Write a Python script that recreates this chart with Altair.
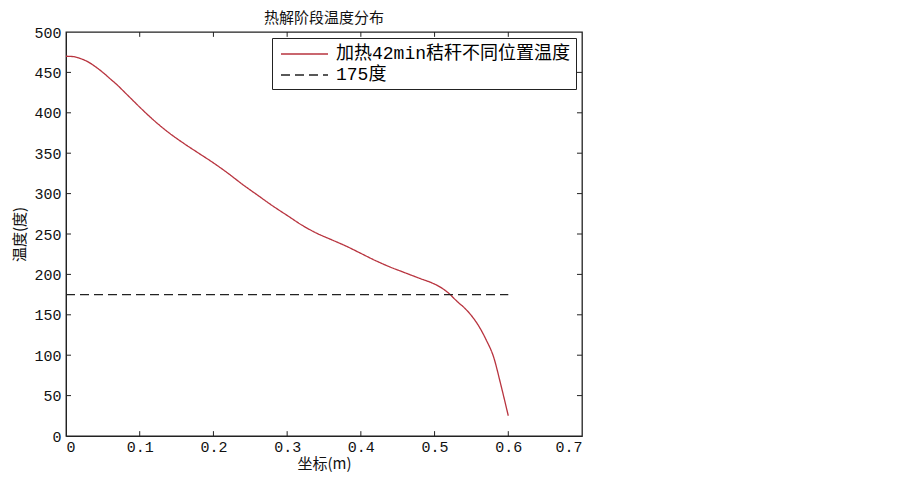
import altair as alt
import pandas as pd

# data
pos = [0, 0.01, 0.02, 0.03, 0.04, 0.05, 0.06, 0.07, 0.08, 0.09, 0.1, 0.12, 0.14, 0.16, 0.18,
       0.2, 0.22, 0.24, 0.26, 0.28, 0.3, 0.32, 0.34, 0.36, 0.38, 0.4, 0.42, 0.44, 0.46, 0.48,
       0.5, 0.51, 0.52, 0.53, 0.54, 0.55, 0.56, 0.57, 0.58, 0.59, 0.6]
temp = [470, 469.5, 467, 463, 457, 450, 442, 434, 425, 416, 407, 390, 375, 362, 350,
        338, 325, 311, 298, 285, 273, 261, 251, 243, 235, 226, 217, 209, 202, 195,
        188, 183, 176, 167, 159, 149, 136, 119, 98, 63, 25]
ref_x = [0, 0.6]
ref_y = [175, 175]
series = ["加热42min秸秆不同位置温度", "175度"]
x_ticks = [0, 0.1, 0.2, 0.3, 0.4, 0.5, 0.6, 0.7]
y_ticks = [0, 50, 100, 150, 200, 250, 300, 350, 400, 450, 500]

df_curve = pd.DataFrame({"x": pos, "y": temp, "s": series[0]})
df_ref = pd.DataFrame({"x": ref_x, "y": ref_y, "s": series[1]})
df = pd.concat([df_curve, df_ref], ignore_index=True)

FONT = "Liberation Mono, Noto Sans CJK SC"
CJK = "Noto Sans CJK SC"

xs = alt.Scale(domain=[0, 0.7], nice=False, zero=False)
ys = alt.Scale(domain=[0, 500], nice=False)

lines = alt.Chart(df).mark_line(strokeWidth=1.3, interpolate="monotone").encode(
    x=alt.X("x:Q", scale=xs, axis=alt.Axis(values=x_ticks, format=".1~f", title="坐标(m)",
                                         tickSize=0, labelPadding=3, titlePadding=2)),
    y=alt.Y("y:Q", scale=ys, axis=alt.Axis(values=y_ticks, title="温度(度)",
                                         tickSize=0, labelPadding=5, titlePadding=6)),
    color=alt.Color("s:N", scale=alt.Scale(domain=series, range=["#b8343f", "#222222"]),
                    legend=alt.Legend(title=None, orient="top-right", offset=6,
                                      fillColor="white", strokeColor="#222222",
                                      padding=5, symbolType="M-2.35,0H2.35", symbolSize=400,
                                      symbolOffset=16.5, labelOffset=20.5,
                                      labelFontSize=18, labelFont=FONT, rowPadding=1,
                                      labelLimit=0, symbolStrokeWidth=1.5)),
    strokeDash=alt.StrokeDash("s:N", scale=alt.Scale(domain=series, range=[[1, 0], [9, 5]]),
                              legend=alt.Legend(title=None, orient="top-right")),
    detail="s:N",
)

tdf_x = pd.DataFrame({"t": x_ticks[1:-1]})
tdf_y = pd.DataFrame({"t": y_ticks[1:-1]})
bot = alt.Chart(tdf_x).mark_rule(color="#222222").encode(
    x=alt.X("t:Q", scale=xs), y=alt.datum(0, scale=ys), y2=alt.datum(6))
top = alt.Chart(tdf_x).mark_rule(color="#222222").encode(
    x=alt.X("t:Q", scale=xs), y=alt.datum(494, scale=ys), y2=alt.datum(500))
left = alt.Chart(tdf_y).mark_rule(color="#222222").encode(
    y=alt.Y("t:Q", scale=ys), x=alt.datum(0, scale=xs), x2=alt.datum(0.0068))
right = alt.Chart(tdf_y).mark_rule(color="#222222").encode(
    y=alt.Y("t:Q", scale=ys), x=alt.datum(0.6932, scale=xs), x2=alt.datum(0.7))

chart = alt.layer(bot, top, left, right, lines).properties(
    width=516, height=404,
    title=alt.Title("热解阶段温度分布", font=CJK, fontSize=15, fontWeight="normal",
                    color="#111111", offset=-1),
    padding={"left": 4, "top": 3, "right": 5, "bottom": 5},
).configure_view(stroke="#222222", strokeWidth=1.3).configure_axis(
    labelFont=FONT, labelFontSize=15, labelColor="#111111",
    titleFont=CJK, titleFontSize=15, titleFontWeight="normal", titleColor="#111111",
    domainColor="#222222", grid=False,
).configure_axisY(labelFont=FONT)

chart.save("out.html", embed_options={"renderer": "svg", "actions": False})
